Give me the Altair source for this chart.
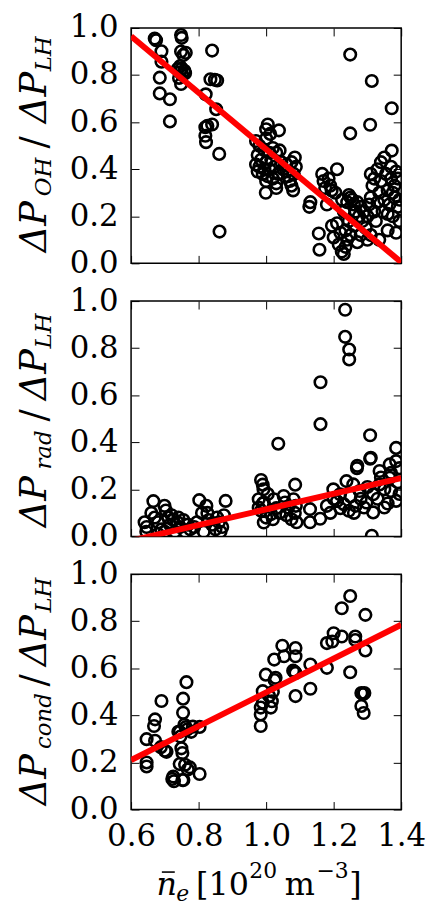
import altair as alt
import pandas as pd

FONT = "DejaVu Serif"

# ---------------- data ----------------
x_ticks = [0.6, 0.8, 1.0, 1.2, 1.4]
y_ticks = [0.0, 0.2, 0.4, 0.6, 0.8, 1.0]

oh_x = [0.670, 0.674, 0.690, 0.690, 0.685, 0.685, 0.715, 0.715,
        0.748, 0.750, 0.748, 0.755, 0.762, 0.745, 0.750, 0.758, 0.745, 0.752, 0.742, 0.748, 0.760, 0.738,
        0.840, 0.835, 0.848, 0.855, 0.821, 0.852, 0.820, 0.826, 0.840, 0.820, 0.822, 0.861, 0.862,
        1.005, 1.000, 1.012, 1.038, 1.000, 0.970, 0.980, 0.995, 1.010, 1.020, 0.975, 0.985, 1.000, 1.015,
        1.030, 1.040, 0.970, 0.980, 0.995, 1.010, 1.025, 1.045, 0.975, 0.990, 1.005, 1.020, 1.035, 1.050,
        1.000, 1.030, 0.999, 1.030, 1.060, 1.065, 1.070, 1.075, 1.080, 1.085, 1.088, 1.082, 1.075, 1.060,
        1.131, 1.128, 1.156, 1.158, 1.166, 1.170, 1.185, 1.190, 1.194, 1.210, 1.205, 1.175, 1.180, 1.195,
        1.200, 1.210, 1.215, 1.220, 1.224, 1.230, 1.235, 1.240, 1.235, 1.250, 1.245,
        1.249, 1.249, 1.313, 1.308, 1.372, 1.372,
        1.250, 1.255, 1.260, 1.265, 1.270, 1.275, 1.280, 1.285, 1.290, 1.295, 1.300, 1.305, 1.310, 1.310,
        1.315, 1.320, 1.320, 1.325, 1.330, 1.335, 1.335, 1.340, 1.340, 1.345, 1.350, 1.350, 1.355, 1.360,
        1.360, 1.365, 1.370, 1.370, 1.375, 1.380, 1.380, 1.385, 1.390, 1.390, 1.395, 1.395, 1.385, 1.330,
        1.300, 1.280, 1.260, 1.270, 1.225, 1.240, 1.230, 1.245, 1.310, 1.360, 1.375]
oh_y = [0.955, 0.948, 0.901, 0.857, 0.789, 0.722, 0.697, 0.603,
        0.970, 0.958, 0.900, 0.885, 0.895, 0.838, 0.828, 0.818, 0.812, 0.800, 0.788, 0.762, 0.808, 0.826,
        0.904, 0.782, 0.780, 0.777, 0.718, 0.655, 0.578, 0.584, 0.590, 0.542, 0.515, 0.465, 0.135,
        0.590, 0.570, 0.550, 0.565, 0.530, 0.520, 0.500, 0.480, 0.470, 0.490, 0.460, 0.440, 0.430, 0.440,
        0.470, 0.480, 0.420, 0.410, 0.400, 0.400, 0.410, 0.430, 0.390, 0.380, 0.370, 0.360, 0.380, 0.400,
        0.350, 0.340, 0.300, 0.320, 0.390, 0.370, 0.350, 0.330, 0.310, 0.450, 0.410, 0.380, 0.430, 0.420,
        0.260, 0.240, 0.127, 0.058, 0.380, 0.350, 0.360, 0.330, 0.310, 0.400, 0.300, 0.320, 0.250, 0.160,
        0.110, 0.170, 0.080, 0.130, 0.050, 0.040, 0.070, 0.100, 0.140, 0.120, 0.180,
        0.887, 0.552, 0.775, 0.589, 0.659, 0.479,
        0.280, 0.270, 0.250, 0.220, 0.260, 0.200, 0.240, 0.180, 0.220, 0.150, 0.200, 0.250, 0.280, 0.120,
        0.330, 0.360, 0.220, 0.180, 0.260, 0.300, 0.100, 0.350, 0.430, 0.220, 0.270, 0.450, 0.380, 0.310,
        0.140, 0.250, 0.360, 0.410, 0.200, 0.330, 0.280, 0.390, 0.240, 0.360, 0.270, 0.180, 0.130, 0.400,
        0.100, 0.120, 0.160, 0.090, 0.270, 0.260, 0.220, 0.290, 0.380, 0.210, 0.300]

rad_x = [0.646, 0.640, 0.645, 0.660, 0.666, 0.670, 0.680, 0.690, 0.699, 0.703, 0.710, 0.715, 0.725,
         0.738, 0.745, 0.755, 0.768, 0.775, 0.787, 0.795, 0.802, 0.810, 0.823, 0.826, 0.830, 0.840,
         0.850, 0.855, 0.860, 0.870, 0.875, 0.880, 0.865, 0.815, 0.760, 0.730, 0.700, 0.680, 0.740, 0.720,
         0.985, 0.990, 0.992, 0.978, 0.993, 1.023, 1.052, 1.056, 1.081, 0.978, 0.985, 1.015, 1.040, 1.065,
         1.088, 0.993, 1.020, 1.075, 0.990, 1.086, 1.005, 1.030, 1.060, 1.090, 1.085, 1.000, 1.036,
         1.130, 1.130, 1.160, 1.161, 1.161,
         1.199, 1.219, 1.238, 1.258, 1.277, 1.230, 1.245, 1.265, 1.297, 1.317, 1.336, 1.336, 1.366, 1.385,
         1.385, 1.366, 1.370, 1.385, 1.350, 1.317, 1.290, 1.270, 1.310, 1.234, 1.234, 1.246, 1.246, 1.308,
         1.308, 1.269, 1.313, 1.210, 1.250, 1.280, 1.300, 1.330, 1.350, 1.370, 1.390, 1.395, 1.395, 1.360,
         1.340, 1.260, 1.220, 1.180, 1.190, 1.200]
rad_y = [0.040, 0.060, 0.020, 0.100, 0.150, 0.080, 0.060, 0.030, 0.130, 0.110, 0.080, 0.050, 0.070,
         0.060, 0.040, 0.070, 0.050, 0.030, 0.040, 0.060, 0.154, 0.100, 0.130, 0.100, 0.070, 0.050,
         0.030, 0.080, 0.060, 0.040, 0.090, 0.151, 0.020, 0.020, 0.020, 0.020, 0.020, 0.010, 0.080, 0.090,
         0.240, 0.220, 0.200, 0.158, 0.144, 0.158, 0.172, 0.144, 0.158, 0.123, 0.109, 0.095, 0.100, 0.123,
         0.130, 0.059, 0.073, 0.073, 0.140, 0.220, 0.180, 0.120, 0.090, 0.060, 0.100, 0.080, 0.394,
         0.116, 0.060, 0.075, 0.655, 0.477,
         0.200, 0.179, 0.235, 0.221, 0.193, 0.137, 0.109, 0.130, 0.144, 0.179, 0.221, 0.278, 0.306, 0.376,
         0.320, 0.249, 0.193, 0.151, 0.123, 0.102, 0.123, 0.300, 0.334, 0.963, 0.848, 0.794, 0.752, 0.430,
         0.330, 0.290, 0.003, 0.150, 0.170, 0.160, 0.210, 0.160, 0.200, 0.270, 0.230, 0.290, 0.180, 0.140,
         0.250, 0.100, 0.120, 0.130, 0.100, 0.160]

cond_x = [0.646, 0.646, 0.646, 0.671, 0.668, 0.671, 0.690, 0.688, 0.700, 0.705, 0.725, 0.727, 0.722,
          0.752, 0.755, 0.744, 0.746, 0.764, 0.754, 0.754, 0.758, 0.762, 0.766, 0.752, 0.749, 0.744,
          0.760, 0.768, 0.774, 0.803, 0.803, 0.740, 0.783, 0.778,
          0.984, 0.984, 0.984, 0.990, 0.990, 0.999, 1.009, 1.014, 1.017, 1.020, 1.028, 1.025, 1.024,
          1.048, 1.053, 1.080, 1.084, 1.087, 1.087, 1.087, 1.087, 1.131, 1.131,
          1.180, 1.180, 1.196, 1.200, 1.224, 1.224, 1.249, 1.264, 1.264, 1.249, 1.294, 1.294, 1.282,
          1.287, 1.291, 1.282, 1.289]
cond_y = [0.299, 0.200, 0.183, 0.383, 0.355, 0.292, 0.461, 0.265, 0.250, 0.245, 0.140, 0.120, 0.130,
          0.125, 0.125, 0.330, 0.310, 0.541, 0.471, 0.411, 0.360, 0.350, 0.340, 0.240, 0.260, 0.193,
          0.190, 0.170, 0.179, 0.351, 0.151, 0.330, 0.352, 0.330,
          0.355, 0.404, 0.433, 0.454, 0.503, 0.573, 0.482, 0.433, 0.460, 0.500, 0.560, 0.550, 0.637,
          0.696, 0.651, 0.590, 0.585, 0.580, 0.686, 0.651, 0.482, 0.616, 0.513,
          0.602, 0.707, 0.714, 0.749, 0.735, 0.855, 0.907, 0.735, 0.720, 0.583, 0.827, 0.676, 0.495,
          0.490, 0.495, 0.440, 0.410]

fit_x = [0.6, 1.4]
oh_fit = [0.965, 0.005]
rad_fit = [-0.018, 0.248]
cond_fit = [0.21, 0.785]

W, H = 272, 237
TICK = {"expr": "-8"}
DUMMY = pd.DataFrame({"d": [0]})


def axis_x(orient, labels):
    return alt.Axis(orient=orient, values=x_ticks, format=".1f", labels=labels, title=None,
                    grid=False, domain=False, ticks=True, tickSize=TICK, tickColor="black",
                    tickWidth=1, labelFont=FONT, labelFontSize=31, labelColor="black",
                    labelPadding=20, labelFlush=False, labelOverlap=False, labelBound=False)


def axis_y(orient, labels):
    return alt.Axis(orient=orient, values=y_ticks, format=".1f", labels=labels, title=None,
                    grid=False, domain=False, ticks=True, tickSize=TICK, tickColor="black",
                    tickWidth=1, labelFont=FONT, labelFontSize=31, labelColor="black",
                    labelPadding=21, labelFlush=False, labelOverlap=False, labelBound=False)


xs = alt.Scale(domain=[0.6, 1.4], nice=False, zero=False)
ys = alt.Scale(domain=[0.0, 1.0], nice=False, zero=False)


def txt(s, x, y, size, italic, angle=0):
    return alt.Chart(DUMMY).mark_text(
        text=s, font=FONT, fontSize=size, fontStyle="italic" if italic else "normal",
        align="center", baseline="alphabetic", angle=angle, color="black"
    ).encode(x=alt.value(x), y=alt.value(y))


def ytitle(sub, c_dp1, c_sub, c_sl, c_dp2, c_lh):
    return [
        txt("ΔP", -86, c_dp1, 37, True, 270),
        txt(sub, -81, c_sub, 23, True, 270),
        txt("/", -86, c_sl, 37, False, 270),
        txt("ΔP", -86, c_dp2, 37, True, 270),
        txt("LH", -81, c_lh, 23, True, 270),
    ]


def panel(xv, yv, fy, xlabels, titles, extra=None):
    pts = alt.Chart(pd.DataFrame({"x": xv, "y": yv})).mark_point(
        shape="circle", filled=False, stroke="black", strokeWidth=2.6, size=135, opacity=1, clip=True
    ).encode(
        x=alt.X("x:Q", scale=xs, axis=axis_x("bottom", xlabels)),
        y=alt.Y("y:Q", scale=ys, axis=axis_y("left", True)),
    )
    line = alt.Chart(pd.DataFrame({"x": fit_x, "y": fy})).mark_line(
        color="#ff0000", strokeWidth=6, clip=True
    ).encode(
        x=alt.X("x:Q", scale=xs, axis=axis_x("top", False)),
        y=alt.Y("y:Q", scale=ys, axis=axis_y("right", False)),
    )
    layers = [pts, line] + titles + (extra or [])
    return alt.layer(*layers).properties(width=W, height=H)


bound = alt.Chart(DUMMY).mark_rule(strokeOpacity=0, strokeWidth=0.5).encode(
    x=alt.value(-131), x2=alt.value(-131), y=alt.value(-23.5), y2=alt.value(-23.5))

macron = alt.Chart(DUMMY).mark_rule(color="black", strokeWidth=1.6).encode(
    x=alt.value(31), x2=alt.value(44), y=alt.value(300), y2=alt.value(300))

p1 = panel(oh_x, oh_y, oh_fit, False, ytitle("OH", 200, 150, 115, 70, 26), [bound])
p2 = panel(rad_x, rad_y, rad_fit, False, ytitle("rad", 202, 150, 115, 74, 30))
xtitle = [
    txt("n", 36, 323, 32, True),
    macron,
    txt("e", 52, 329, 22, True),
    txt("[10", 92, 323, 32, False),
    txt("20", 133, 306, 22, False),
    txt("m", 170, 323, 32, False),
    txt("−3", 203, 306, 22, False),
    txt("]", 226, 323, 32, False),
]
p3 = panel(cond_x, cond_y, cond_fit, True, ytitle("cond", 207, 148, 107, 67, 21), xtitle)

chart = alt.vconcat(p1, p2, p3, spacing=38, bounds="flush").properties(
    padding={"left": 0, "top": 0, "right": 0, "bottom": 0}, background="white"
).configure_view(stroke="black", strokeWidth=1.5)

chart.save("out.html", embed_options={"renderer": "svg", "actions": False})
